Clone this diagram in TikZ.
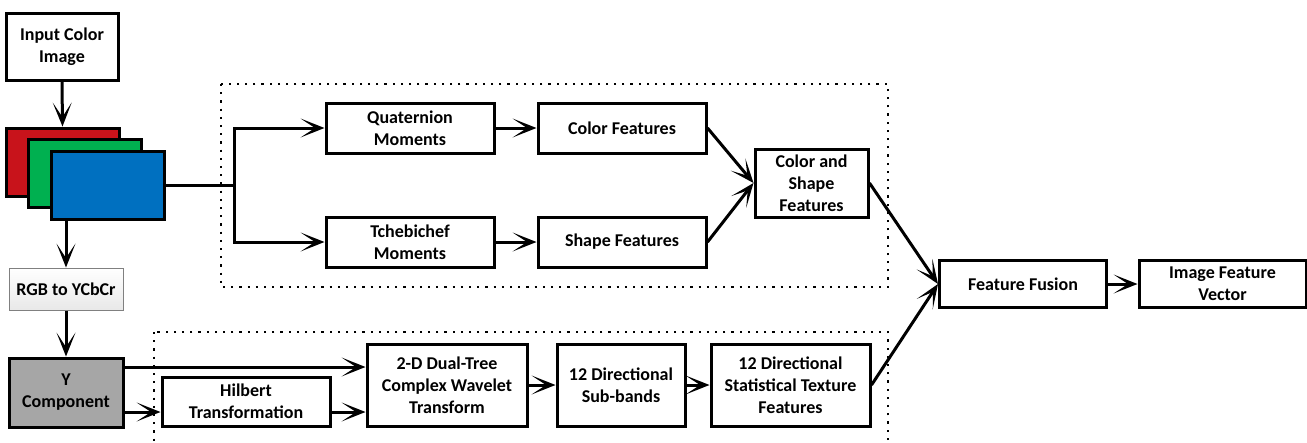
\documentclass[tikz,border=0pt]{standalone}
\usepackage{fontspec}
\setmainfont{Carlito}
\usetikzlibrary{arrows.meta}
\definecolor{chred}{HTML}{C8131B}
\definecolor{chgreen}{HTML}{00B050}
\definecolor{chblue}{HTML}{0070C0}
\definecolor{ygray}{HTML}{A6A6A6}
\begin{document}
\begin{tikzpicture}[x=1pt,y=-1pt,
  lbl/.style={font=\bfseries\fontsize{18}{22}\selectfont, align=center},
  box/.style={lbl, draw=black, line width=3pt, fill=white, inner sep=0pt},
  plane/.style={draw=black, line width=3pt, inner sep=0pt, minimum width=113pt, minimum height=68pt},
  conn/.style={line width=3pt},
  arr/.style={conn, -{Stealth[length=24pt,width=19pt,inset=14.5pt,line width=0pt]}},
  group/.style={line width=2.2pt, dash pattern=on 2.2pt off 6pt}]
\useasboundingbox (0,0) rectangle (1307,442);
\clip (0,0) rectangle (1307,442);

% processing groups
\draw[group] (221,84) rectangle (888,287);
\draw[group] (154,332) rectangle (888,470);

% input and colour planes
\node[box, minimum width=112pt, minimum height=67pt] (in) at (62,46.5) {Input Color\\Image};
\node[plane, fill=chred]   (red)   at (62.5,162) {};
\node[plane, fill=chgreen] (green) at (85,173.5) {};
\node[plane, fill=chblue]  (blue)  at (107.5,185.5) {};

% colour space conversion
\node[lbl, draw=black!50, line width=1pt, top color=white, bottom color=black!9,
      minimum width=114pt, minimum height=42pt, inner sep=0pt] (rgb) at (66,289) {RGB to YCbCr};
\node[box, fill=ygray, minimum width=114pt, minimum height=69pt] (ycomp) at (66,392.5) {Y\\Component};

% colour and shape branch
\node[box, minimum width=168pt, minimum height=50pt] (quat) at (410,128) {Quaternion\\Moments};
\node[box, minimum width=168pt, minimum height=50pt] (colf) at (622,128) {Color Features};
\node[box, minimum width=168pt, minimum height=50pt] (tcheb) at (410,242) {Tchebichef\\Moments};
\node[box, minimum width=168pt, minimum height=50pt] (shpf) at (622,242) {Shape Features};
\node[box, minimum width=113pt, minimum height=68pt] (cs) at (811.5,183) {Color and\\Shape\\Features};

% texture branch
\node[box, minimum width=168pt, minimum height=49pt] (hil) at (246,401.5) {Hilbert\\Transformation};
\node[box, minimum width=160pt, minimum height=82pt] (dtcwt) at (447,385) {2-D Dual-Tree\\Complex Wavelet\\Transform};
\node[box, minimum width=128pt, minimum height=82pt] (sub) at (621,385) {12 Directional\\Sub-bands};
\node[box, minimum width=159pt, minimum height=82pt] (tex) at (790.5,385) {12 Directional\\Statistical Texture\\Features};

% fusion
\node[box, minimum width=167pt, minimum height=47pt] (fus) at (1023,284) {Feature Fusion};
\node[box, minimum width=167pt, minimum height=47pt] (vec) at (1222.5,284) {Image Feature\\Vector};

% connectors
\draw[arr] (in.south) -- (red.north);
\coordinate (split) at (234,185.5);
\draw[conn] (blue.east) -- (split);
\draw[arr] (split) |- (quat.west);
\draw[arr] (split) |- (tcheb.west);
\draw[arr] (quat) -- (colf);
\draw[arr] (tcheb) -- (shpf);
\draw[arr] (colf.east) -- (cs.west);
\draw[arr] (shpf.east) -- (cs.west);
\draw[arr] (cs.east) -- (fus.west);

\draw[arr] (blue.south -| rgb.north) -- (rgb.north);
\draw[arr] (rgb.south) -- (ycomp.north);
\coordinate (yhi) at ([yshift=25.5pt]ycomp.east);
\coordinate (ylo) at ([yshift=-19.5pt]ycomp.east);
\draw[arr] (yhi) -- (yhi -| dtcwt.west);
\draw[arr] (ylo) -- (ylo -| hil.west);
\draw[arr] (ylo -| hil.east) -- (ylo -| dtcwt.west);
\draw[arr] (dtcwt) -- (sub);
\draw[arr] (sub) -- (tex);
\draw[arr] (tex.east) -- (fus.west);
\draw[arr] (fus) -- (vec);
\end{tikzpicture}
\end{document}
